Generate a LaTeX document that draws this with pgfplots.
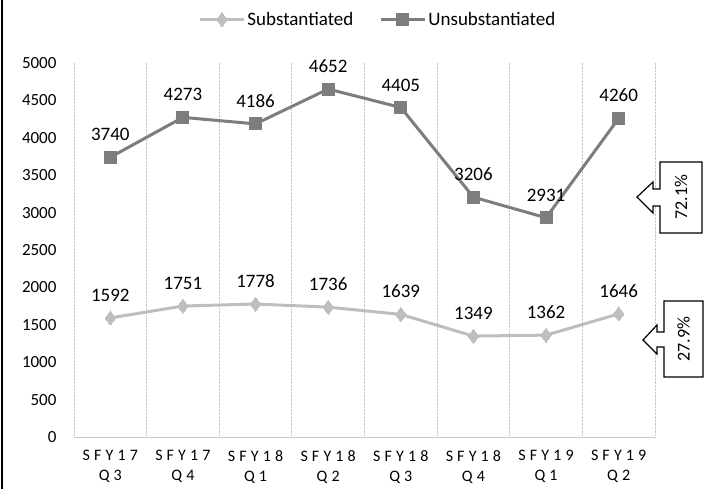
\documentclass[border=0pt]{standalone}
\usepackage{pgfplots}
\pgfplotsset{compat=1.18}
\usepackage{fontspec}
\setmainfont{Carlito}
\definecolor{subc}{RGB}{190,190,190}
\definecolor{unsc}{RGB}{125,125,125}
\definecolor{gridc}{RGB}{200,200,200}
\begin{document}
\begin{tikzpicture}[x=1pt,y=1pt]
\path[use as bounding box] (-74,-52) rectangle (637,437);
\draw[line width=2pt] (-72,-52) -- (-72,437);
\begin{axis}[
  at={(0,0)}, anchor=south west,
  scale only axis, width=581pt, height=374pt,
  xmin=-0.5, xmax=7.5, ymin=0, ymax=5000,
  xtick={0,...,7},
  xticklabels={SFY17\\Q3,SFY17\\Q4,SFY18\\Q1,SFY18\\Q2,SFY18\\Q3,SFY18\\Q4,SFY19\\Q1,SFY19\\Q2},
  x tick label style={align=center, font=\fontsize{16}{20}\selectfont\addfontfeature{LetterSpace=26}, yshift=-10pt},
  ytick={0,500,...,5000},
  y tick label style={font=\fontsize{17}{18}\selectfont, xshift=-14pt},
  /pgf/number format/assume math mode=true,
  /pgf/number format/1000 sep={},
  minor xtick={-0.5,0.5,...,7.5},
  xminorgrids, minor grid style={gridc, densely dotted, line width=0.8pt},
  axis line style={draw=none},
  major tick length=0pt, minor tick length=0pt,
  legend columns=2,
  legend style={at={(0.523,1)}, anchor=south, yshift=32pt, draw=none, fill=none,
    font=\fontsize{19}{20}\selectfont, /tikz/every even column/.append style={column sep=24pt}},
  legend image code/.code={\draw[#1] (0pt,0pt) -- (44pt,0pt); \draw[#1, mark repeat=2, mark phase=2] plot coordinates {(0pt,0pt) (22pt,0pt) (44pt,0pt)};},
  nodes near coords,
  every node near coord/.append style={font=\fontsize{19}{20}\selectfont, black, yshift=13pt},
  clip=false,
]
\draw[gridc, line width=0.8pt] (axis cs:-0.5,0) -- (axis cs:7.5,0);
\addplot[subc, line width=3pt, mark=diamond*, mark size=7pt, mark options={solid, fill=subc, line width=0pt}]
  coordinates {(0,1592) (1,1751) (2,1778) (3,1736) (4,1639) (5,1349) (6,1362) (7,1646)};
\addlegendentry{Substantiated}
\addplot[unsc, line width=3pt, mark=square*, mark size=6pt, mark options={solid, fill=unsc, line width=0pt}]
  coordinates {(0,3740) (1,4273) (2,4186) (3,4652) (4,4405) (5,3206) (6,2931) (7,4260)};
\addlegendentry{Unsubstantiated}
\end{axis}
\draw[black, fill=white, line width=1.2pt] (586,275) -- (628,275) -- (628,204) -- (586,204) -- (586,231) -- (579,231) -- (579,224) -- (563,240) -- (579,255) -- (579,248) -- (586,248) -- cycle;
\node[rotate=90, font=\fontsize{18}{18}\selectfont] at (607,240) {72.1\%};
\draw[black, fill=white, line width=1.2pt] (590,136) -- (629,136) -- (629,60) -- (590,60) -- (590,90) -- (583,90) -- (583,83) -- (569,97) -- (583,112) -- (583,105) -- (590,105) -- cycle;
\node[rotate=90, font=\fontsize{18}{18}\selectfont] at (609.5,98) {27.9\%};
\end{tikzpicture}
\end{document}
